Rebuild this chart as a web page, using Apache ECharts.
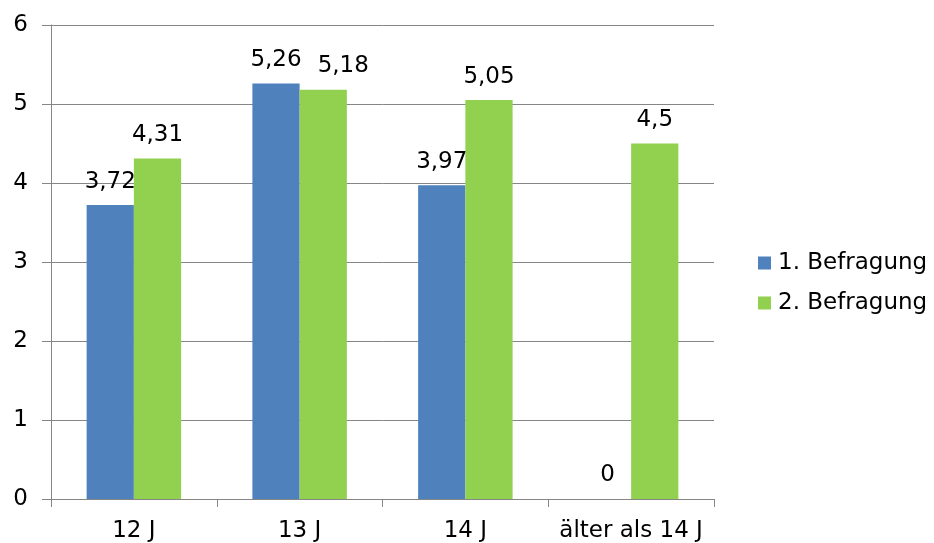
<!DOCTYPE html>
<html>
<head>
<meta charset="utf-8">
<script src="https://cdn.jsdelivr.net/npm/echarts@6/dist/echarts.min.js"></script>
<style>
  html, body { margin: 0; padding: 0; background: #fff; }
  #chart { width: 934px; height: 543px; }
</style>
</head>
<body>
<div id="chart"></div>
<script>
// Age groups and average scores per survey round
const categories = ['12 J', '13 J', '14 J', 'älter als 14 J'];
const befragung1 = [3.72, 5.26, 3.97, 0];
const befragung2 = [4.31, 5.18, 5.05, 4.5];
const seriesNames = ['1. Befragung', '2. Befragung'];
const yTicks = [0, 1, 2, 3, 4, 5, 6];

const FONT = '"DejaVu Sans", "Liberation Sans", Arial, sans-serif';
const FS = 23;
const gray = '#868686';

const labelOpt = {
  show: true,
  position: 'top',
  distance: 12,
  color: '#000',
  fontFamily: FONT,
  fontSize: FS,
  formatter: p => String(p.value).replace('.', ',')
};

// Nudge a label sideways where two neighbouring labels would collide
function withLabelShift(values, shifts) {
  return values.map((v, i) => shifts[i]
    ? { value: v, label: { offset: shifts[i] } }
    : v);
}

const chart = echarts.init(document.getElementById('chart'));
chart.setOption({
  animation: false,
  textStyle: { fontFamily: FONT },
  grid: { left: 51, right: 220, top: 25, bottom: 44, containLabel: false },
  legend: {
    orient: 'vertical',
    left: 753,
    top: 246,
    itemWidth: 13,
    itemHeight: 13,
    itemGap: 16,
    icon: 'rect',
    textStyle: { fontSize: FS, color: '#000', fontFamily: FONT, lineHeight: 24, padding: [0, 0, 0, 2] },
    data: seriesNames
  },
  xAxis: {
    type: 'category',
    data: categories,
    axisLine: { lineStyle: { color: gray, width: 1 } },
    axisTick: { show: true, length: 8, lineStyle: { color: gray } },
    axisLabel: { color: '#000', fontSize: FS, margin: 21, interval: 0, fontFamily: FONT }
  },
  yAxis: {
    type: 'value',
    min: yTicks[0],
    max: yTicks[yTicks.length - 1],
    interval: 1,
    axisLine: { show: true, lineStyle: { color: gray, width: 1 } },
    axisTick: { show: true, length: 9, lineStyle: { color: gray } },
    axisLabel: { color: '#000', fontSize: FS, margin: 23, fontFamily: FONT },
    splitLine: { lineStyle: { color: gray, width: 1 } }
  },
  series: [
    {
      name: seriesNames[0],
      type: 'bar',
      data: befragung1,
      barGap: '0%',
      barCategoryGap: '43%',
      itemStyle: { color: '#4F81BD' },
      label: labelOpt
    },
    {
      name: seriesNames[1],
      type: 'bar',
      data: withLabelShift(befragung2, [null, [20, 0], null, null]),
      barGap: '0%',
      barCategoryGap: '43%',
      itemStyle: { color: '#92D050' },
      label: labelOpt
    }
  ]
});
</script>
</body>
</html>
